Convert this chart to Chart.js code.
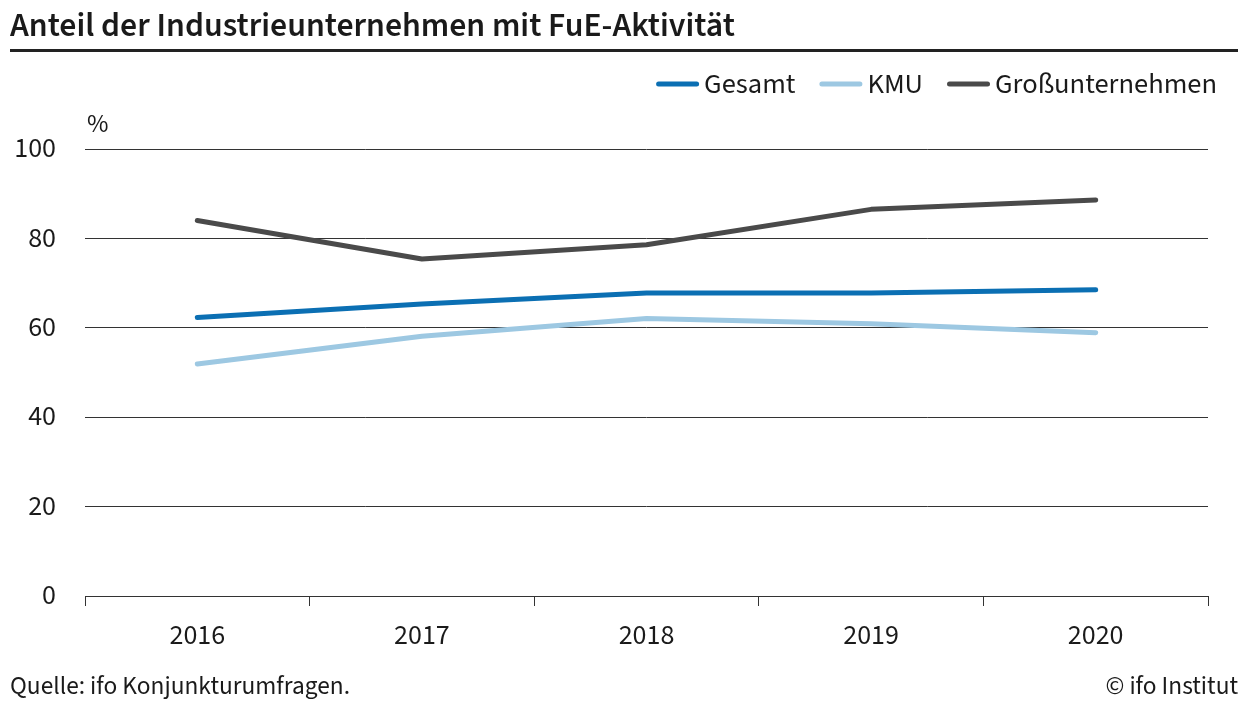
<!DOCTYPE html>
<html>
<head>
<meta charset="utf-8">
<script src="https://cdn.jsdelivr.net/npm/chart.js@4.4.1/dist/chart.umd.min.js"></script>
<style>
  html, body { margin: 0; padding: 0; background: #fff; }
  #wrap { position: relative; width: 1248px; height: 717px; }
  canvas { display: block; }
</style>
</head>
<body>
<div id="wrap"><canvas id="c" width="1248" height="717"></canvas></div>
<script>
const titleText = "Anteil der Industrieunternehmen mit FuE-Aktivität";
const sourceText = "Quelle: ifo Konjunkturumfragen.";
const copyrightText = "© ifo Institut";
const unitLabel = "%";

const years = ["2016", "2017", "2018", "2019", "2020"];
const gesamt = [62.3, 65.3, 67.8, 67.8, 68.5];
const kmu = [51.9, 58.1, 62.1, 60.9, 58.9];
const gross = [84.0, 75.4, 78.6, 86.5, 88.6];

const seriesNames = ["Gesamt", "KMU", "Großunternehmen"];
const seriesColors = ["#0b6fb3", "#9dc8e2", "#4a4a4a"];

const FONT = "'Source Sans 3', 'Open Sans', sans-serif";
const TEXT = "#1a1a1a";

function fitFont(ctx, text, weight, targetWidth, base) {
  ctx.font = weight + " " + base + "px " + FONT;
  const w = ctx.measureText(text).width;
  return base * targetWidth / w;
}

const decorPlugin = {
  id: "decor",
  afterDraw(chart) {
    const ctx = chart.ctx;
    ctx.save();
    ctx.textBaseline = "alphabetic";
    ctx.textAlign = "left";
    ctx.fillStyle = TEXT;
    // title
    const ts = fitFont(ctx, titleText, "600", 725, 32);
    ctx.font = "600 " + ts + "px " + FONT;
    ctx.fillText(titleText, 10, 36);
    // rule
    ctx.fillStyle = "#222";
    ctx.fillRect(10, 49, 1228, 3);
    // unit
    ctx.fillStyle = TEXT;
    ctx.font = "26px " + FONT;
    ctx.fillText(unitLabel, 87, 132);
    // footer
    const fs = fitFont(ctx, sourceText, "400", 340, 24);
    ctx.font = fs + "px " + FONT;
    ctx.fillText(sourceText, 10, 694);
    ctx.textAlign = "right";
    ctx.fillText(copyrightText, 1238, 694);
    // legend (right aligned)
    ctx.font = "28.5px " + FONT;
    ctx.textAlign = "left";
    const sw = 43, gapText = 5, gapItem = 24;
    const widths = chart.data.datasets.map(d => sw + gapText + ctx.measureText(d.label).width);
    const total = widths.reduce((a, b) => a + b, 0) + gapItem * (widths.length - 1);
    let x = 1217 - total;
    const y = 84;
    chart.data.datasets.forEach((d, i) => {
      ctx.strokeStyle = d.borderColor;
      ctx.lineWidth = 5;
      ctx.lineCap = "round";
      ctx.beginPath();
      ctx.moveTo(x + 2.5, y);
      ctx.lineTo(x + sw - 2.5, y);
      ctx.stroke();
      ctx.fillStyle = TEXT;
      ctx.fillText(d.label, x + sw + gapText, 93);
      x += widths[i] + gapItem;
    });
    ctx.restore();
  }
};

function ds(label, data, color) {
  return {
    label: label,
    data: data,
    borderColor: color,
    backgroundColor: color,
    borderWidth: 5,
    borderCapStyle: "round",
    borderJoinStyle: "round",
    pointRadius: 0,
    pointHoverRadius: 0,
    tension: 0,
    fill: false
  };
}

new Chart(document.getElementById("c"), {
  type: "line",
  data: {
    labels: years,
    datasets: [
      ds(seriesNames[0], gesamt, seriesColors[0]),
      ds(seriesNames[1], kmu, seriesColors[1]),
      ds(seriesNames[2], gross, seriesColors[2])
    ]
  },
  options: {
    responsive: false,
    animation: false,
    devicePixelRatio: 1,
    layout: { padding: { top: 149, left: 14, right: 40, bottom: 65 } },
    plugins: {
      legend: { display: false },
      title: { display: false },
      tooltip: { enabled: false }
    },
    scales: {
      x: {
        offset: true,
        afterFit(scale) { scale.height = 56; },
        grid: {
          offset: true,
          drawOnChartArea: false,
          drawTicks: true,
          tickLength: 10,
          color: "#333",
          lineWidth: 1
        },
        border: { display: true, color: "#333", width: 1 },
        ticks: {
          color: TEXT,
          font: { family: FONT, size: 28 },
          padding: 15,
          maxRotation: 0
        }
      },
      y: {
        min: 0,
        max: 100,
        afterFit(scale) { scale.width = 71; },
        ticks: {
          stepSize: 20,
          color: TEXT,
          font: { family: FONT, size: 28 },
          padding: 29,
          labelOffset: 2
        },
        grid: {
          drawTicks: false,
          color: "#333",
          lineWidth: 1
        },
        border: { display: false }
      }
    }
  },
  plugins: [decorPlugin]
});
</script>
</body>
</html>
